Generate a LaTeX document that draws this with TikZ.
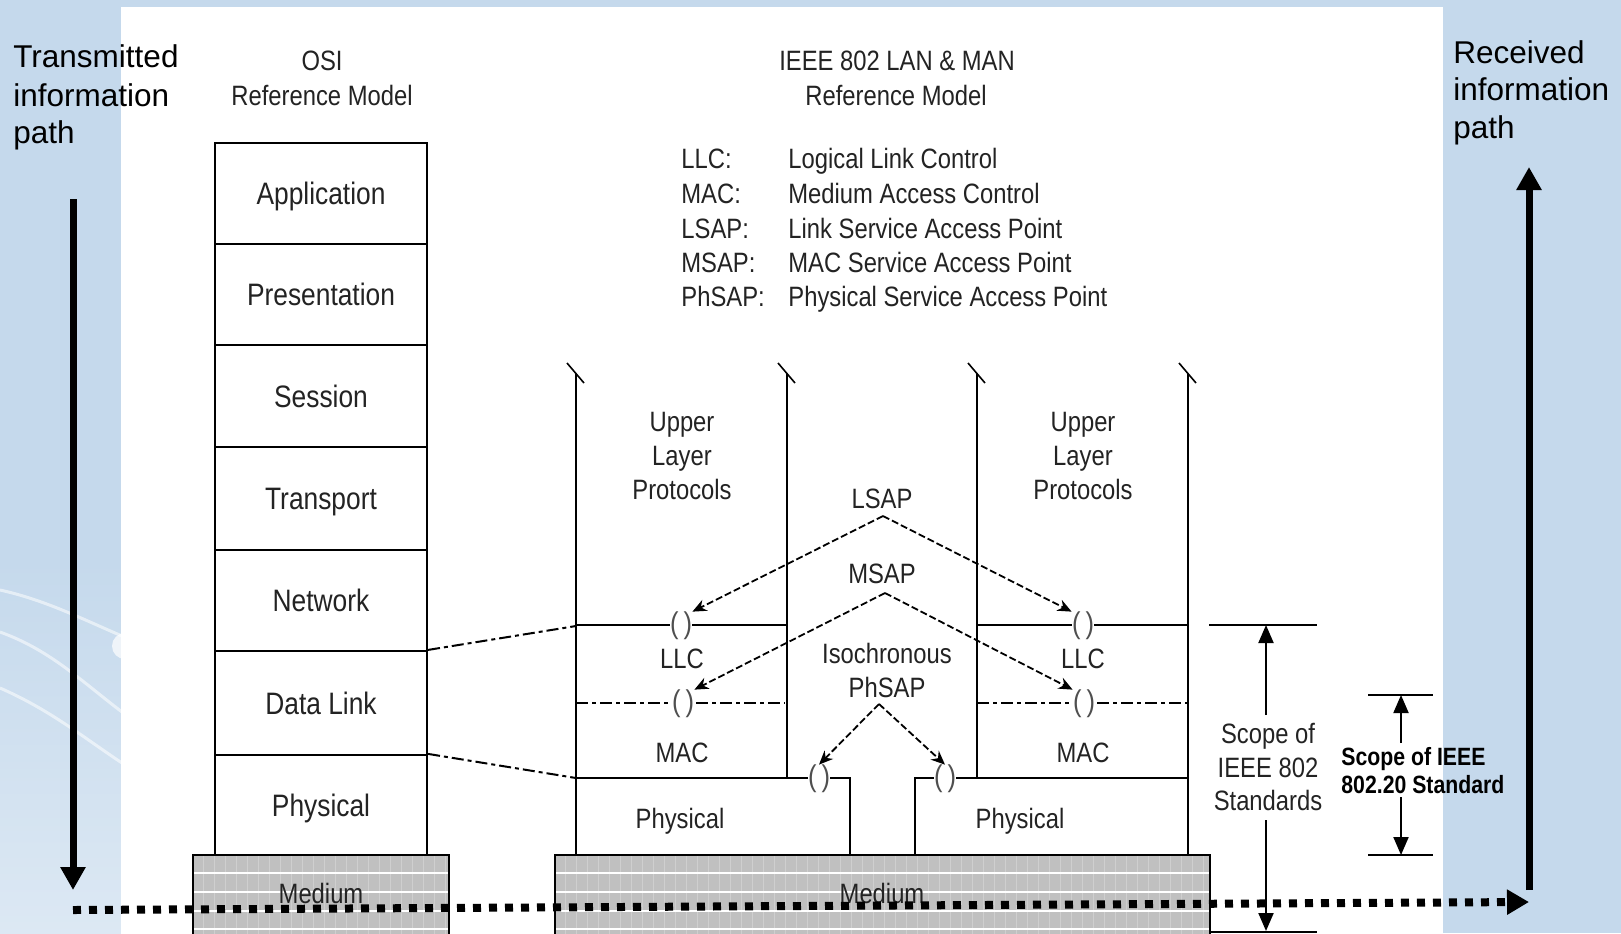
\documentclass[tikz,border=0pt]{standalone}
\usepackage{fontspec}
\usetikzlibrary{arrows.meta}
\newfontfamily\nar[FakeStretch=0.85]{Liberation Sans}
\newfontfamily\arialf{Liberation Sans}
\definecolor{bgblue}{RGB}{197,217,236}
\definecolor{txtgray}{RGB}{35,35,35}
\definecolor{medgray}{RGB}{192,192,192}
\definecolor{medline}{RGB}{207,207,207}
\begin{document}
\begin{tikzpicture}[x=0.5pt,y=-0.5pt,
  every node/.style={inner sep=0pt},
  lbl/.style={font=\nar\fontsize{14pt}{17pt}\selectfont, text=txtgray, anchor=base},
  lblw/.style={lbl, anchor=base west},
  osi/.style={draw, line width=1.1pt, minimum width=106pt, text height=11pt, text depth=0pt, font=\nar\fontsize{15.5pt}{18pt}\selectfont, text=txtgray},
  side/.style={font=\arialf\fontsize{15.75pt}{19pt}\selectfont, anchor=base west},
  sap/.style={font=\nar\fontsize{15pt}{15pt}\selectfont, text=txtgray!80, fill=white},
  ln/.style={line width=1pt},
  tick/.style={line width=0.8pt},
  dashdot/.style={line width=1pt, dash pattern=on 6pt off 2pt on 2pt off 2pt},
  sapar/.style={line width=0.9pt, dash pattern=on 3.5pt off 1.5pt, -{Stealth[length=7pt,width=6pt]}},
  scar/.style={line width=1pt, -{Triangle[length=9pt,width=7.5pt]}},
  bigar/.style={line width=3.5pt, -{Triangle[length=11.5pt,width=12pt]}},
  dotar/.style={line width=4pt, dash pattern=on 4pt off 4pt, -{Triangle[length=11pt,width=12pt]}},
]
\useasboundingbox (0,0) rectangle (1621,933);
% background
\fill[bgblue] (0,0) rectangle (1621,933);
\shade[top color=bgblue, bottom color=bgblue!60!white] (0,560) rectangle (122,933);
\draw[white, opacity=0.55, line width=1.5pt] (0,590) .. controls (45,600) and (80,618) .. (122,636);
\draw[white, opacity=0.55, line width=1.5pt] (0,632) .. controls (50,650) and (80,680) .. (122,712);
\draw[white, opacity=0.55, line width=1.5pt] (0,688) .. controls (50,710) and (80,735) .. (122,763);
\fill[white, opacity=0.7] (125,646) circle[radius=13];
\fill[white] (121,7) rectangle (1443,940);

% side labels
\node[side] (tx1) at (13,67) {Transmitted};
\node[side] (tx2) at (13,106) {information};
\node[side] (tx3) at (13,143) {path};
\node[side] (rx1) at (1453,63) {Received};
\node[side] (rx2) at (1453,100) {information};
\node[side] (rx3) at (1453,138) {path};

% headers
\node[lbl] (osih1) at (322,70) {OSI};
\node[lbl] (osih2) at (322,105) {Reference Model};
\node[lbl] (ieh1) at (897,70) {IEEE 802 LAN \& MAN};
\node[lbl] (ieh2) at (896,105) {Reference Model};

% legend
\node[lblw] (ab1) at (681,168) {LLC:};
\node[lblw] (ab2) at (681,203) {MAC:};
\node[lblw] (ab3) at (681,238) {LSAP:};
\node[lblw] (ab4) at (681,272) {MSAP:};
\node[lblw] (ab5) at (681,306) {PhSAP:};
\node[lblw] (df1) at (788,168) {Logical Link Control};
\node[lblw] (df2) at (788,203) {Medium Access Control};
\node[lblw] (df3) at (788,238) {Link Service Access Point};
\node[lblw] (df4) at (788,272) {MAC Service Access Point};
\node[lblw] (df5) at (788,306) {Physical Service Access Point};

% media
\begin{scope}
  \clip (193,855) rectangle (449,940);
  \fill[medgray] (193,855) rectangle (449,940);
  \foreach \x in {203,214,...,449} \draw[medline, line width=0.5pt] (\x,855) -- (\x,940);
  \foreach \y in {873,892,911,929} \draw[white, line width=1.4pt] (193,\y) -- (449,\y);
\end{scope}
\draw[ln] (193,940) |- (449,855) -- (449,940);
\begin{scope}
  \clip (555,855) rectangle (1210,940);
  \fill[medgray] (555,855) rectangle (1210,940);
  \foreach \x in {565,576,...,1210} \draw[medline, line width=0.5pt] (\x,855) -- (\x,940);
  \foreach \y in {873,892,911,929} \draw[white, line width=1.4pt] (555,\y) -- (1210,\y);
\end{scope}
\draw[ln] (555,940) |- (1210,855) -- (1210,940);
\node[lbl] (med1) at (321,903) {Medium};
\node[lbl] (med2) at (882,903) {Medium};

% OSI stack
\node[osi, minimum height=50.5pt] (app) at (321,193.5) {Application};
\node[osi, minimum height=50.5pt] (pres) at (321,294.5) {Presentation};
\node[osi, minimum height=51pt] (sess) at (321,396) {Session};
\node[osi, minimum height=51.5pt] (trans) at (321,498.5) {Transport};
\node[osi, minimum height=50.5pt] (net) at (321,600.5) {Network};
\node[osi, minimum height=52pt] (dl) at (321,703) {Data Link};
\node[osi, minimum height=50pt] (phy) at (321,805) {Physical};

% IEEE 802 stack coordinates
\coordinate (L1) at (576,626);
\coordinate (L3) at (576,778);

% verticals with break ticks
\foreach \x/\b in {576/855, 787/778, 977/778, 1188/855}{
  \draw[ln] (\x,373) -- (\x,\b);
  \draw[tick] (\x-9,363) -- (\x+8,383);
}
% horizontal layer lines
\draw[ln] (576,625) -- (787,625);
\draw[ln] (977,625) -- (1188,625);
\draw[dashdot] (576,703) -- (785,703);
\draw[dashdot] (977,703) -- (1188,703);
\draw[ln] (576,778) -- (850,778) -- (850,855);
\draw[ln] (915,855) -- (915,778) -- (1188,778);

% connectors from OSI
\draw[dashdot] (dl.north east) -- (L1);
\draw[dashdot] (phy.north east) -- (L3);

% service access points
\node[sap] (sapL1) at (681,626) {(\hspace{2.5pt})};
\node[sap] (sapR1) at (1083,626) {(\hspace{2.5pt})};
\node[sap] (sapL2) at (683,704) {(\hspace{2.5pt})};
\node[sap] (sapR2) at (1084,704) {(\hspace{2.5pt})};
\node[sap] (sapL3) at (819,779) {(\hspace{2.5pt})};
\node[sap] (sapR3) at (945,779) {(\hspace{2.5pt})};

% labels
\node[lbl] (ulp1a) at (682,431) {Upper};
\node[lbl] (ulp1b) at (682,465) {Layer};
\node[lbl] (ulp1c) at (682,499) {Protocols};
\node[lbl] (ulp2a) at (1083,431) {Upper};
\node[lbl] (ulp2b) at (1083,465) {Layer};
\node[lbl] (ulp2c) at (1083,499) {Protocols};
\node[lbl] (lsap) at (882,508) {LSAP};
\node[lbl] (msap) at (882,583) {MSAP};
\node[lbl] (iso1) at (887,663) {Isochronous};
\node[lbl] (iso2) at (887,697) {PhSAP};
\node[lbl] (llcL) at (682,668) {LLC};
\node[lbl] (llcR) at (1083,668) {LLC};
\node[lbl] (macL) at (682,762) {MAC};
\node[lbl] (macR) at (1083,762) {MAC};
\node[lbl] (phyL) at (680,828) {Physical};
\node[lbl] (phyR) at (1020,828) {Physical};

% SAP arrows
\coordinate (lsapA) at (883,516);
\coordinate (msapA) at (885,593);
\coordinate (phsapA) at (879,704);
\draw[sapar] (lsapA) -- (sapL1.north east);
\draw[sapar] (lsapA) -- (sapR1.north west);
\draw[sapar] (msapA) -- (sapL2.north east);
\draw[sapar] (msapA) -- (sapR2.north west);
\draw[sapar] (phsapA) -- (sapL3.north);
\draw[sapar] (phsapA) -- (sapR3.north);

% scope of IEEE 802
\draw[ln] (1209,625) -- (1317,625);
\draw[ln] (1209,932) -- (1317,932);
\node[lbl] (sc1) at (1268,743) {Scope of};
\node[lbl] (sc2) at (1268,777) {IEEE 802};
\node[lbl] (sc3) at (1268,810) {Standards};
\coordinate (s8a) at (1266,715);
\coordinate (s8t) at (1266,625);
\coordinate (s8b) at (1266,820);
\coordinate (s8d) at (1266,931);
\draw[scar] (s8a) -- (s8t);
\draw[scar] (s8b) -- (s8d);

% scope of IEEE 802.20
\draw[ln] (1368,695) -- (1433,695);
\draw[ln] (1368,855) -- (1433,855);
\node[anchor=base west, font=\nar\bfseries\fontsize{12.5pt}{14pt}\selectfont] (sd1) at (1341,765) {Scope of IEEE};
\node[anchor=base west, font=\nar\bfseries\fontsize{12.5pt}{14pt}\selectfont] (sd2) at (1341,793) {802.20 Standard};
\coordinate (s20a) at (1401,743);
\coordinate (s20t) at (1401,695);
\coordinate (s20b) at (1401,797);
\coordinate (s20d) at (1401,855);
\draw[scar] (s20a) -- (s20t);
\draw[scar] (s20b) -- (s20d);

% information paths
\coordinate (txs) at (73,199);
\coordinate (txe) at (73,890);
\coordinate (ds) at (73,910);
\coordinate (de) at (1529,902);
\coordinate (rxs) at (1529,890);
\coordinate (rxe) at (1529,167);
\draw[bigar] (txs) -- (txe);
\draw[dotar] (ds) -- (de);
\draw[bigar] (rxs) -- (rxe);
\end{tikzpicture}
\end{document}
